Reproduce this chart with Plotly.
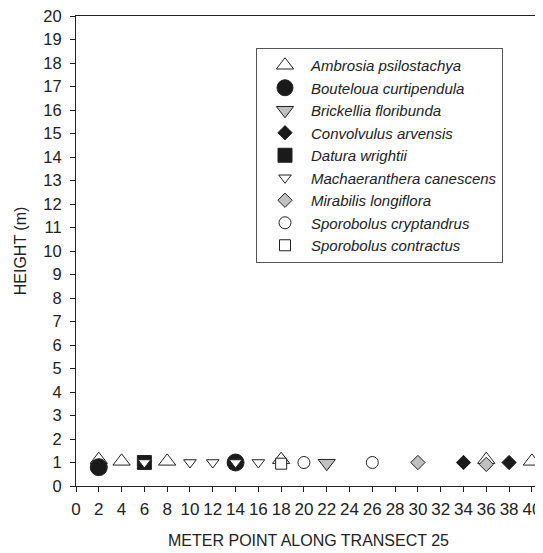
import plotly.graph_objects as go

# Data
species = ["Ambrosia psilostachya", "Bouteloua curtipendula", "Brickellia floribunda",
           "Convolvulus arvensis", "Datura wrightii", "Machaeranthera canescens",
           "Mirabilis longiflora", "Sporobolus cryptandrus", "Sporobolus contractus"]

ambrosia_x = [2, 4, 8, 18, 36, 40]
ambrosia_y = [1.12, 1.05, 1.05, 1.12, 1.12, 1.05]
bouteloua_x = [2, 14]
bouteloua_y = [0.8, 1.0]
brickellia_x = [22]
brickellia_y = [0.97]
convolvulus_x = [34, 38]
convolvulus_y = [1.0, 1.0]
datura_x = [6]
datura_y = [1.0]
machaeranthera_x = [6, 10, 12, 14, 16]
machaeranthera_y = [1.0, 1.0, 1.0, 1.0, 1.0]
mirabilis_x = [30, 36]
mirabilis_y = [1.0, 0.92]
cryptandrus_x = [20, 26]
cryptandrus_y = [1.0, 1.0]
contractus_x = [18]
contractus_y = [0.95]

x_tick_vals = list(range(0, 41, 2))
y_tick_vals = list(range(0, 21, 1))

BLACK = "#1a1a1a"
GRAY = "#c0c0c0"
LINE = "#222222"

styles = [
    (ambrosia_x, ambrosia_y, "triangle-up", 15, "white"),
    (bouteloua_x, bouteloua_y, "circle", 17, BLACK),
    (brickellia_x, brickellia_y, "triangle-down", 15, GRAY),
    (convolvulus_x, convolvulus_y, "diamond", 11, BLACK),
    (datura_x, datura_y, "square", 14, BLACK),
    (machaeranthera_x, machaeranthera_y, "triangle-down", 11, "white"),
    (mirabilis_x, mirabilis_y, "diamond", 11, GRAY),
    (cryptandrus_x, cryptandrus_y, "circle", 12, "white"),
    (contractus_x, contractus_y, "square", 11, "white"),
]

fig = go.Figure()
for name, (xs, ys, sym, size, fill) in zip(species, styles):
    fig.add_trace(go.Scatter(
        x=xs, y=ys, mode="markers", name=name,
        marker=dict(symbol=sym, size=size, color=fill,
                    line=dict(color=LINE, width=1)),
        cliponaxis=False,
    ))

# The page body has an 8px default margin, so the figure is drawn 8px smaller
# and its left/top margins are reduced to keep the plot area where the reference has it.
FONT = "Liberation Sans, Arial, sans-serif"
fig.update_layout(
    width=535, height=545,
    margin=dict(l=68, r=2, t=8, b=67),
    paper_bgcolor="white", plot_bgcolor="white",
    font=dict(family=FONT, size=16, color="#222222"),
    showlegend=True,
    legend=dict(
        x=(256 - 76) / 465, y=(486 - 48) / 470, xanchor="left", yanchor="top",
        bgcolor="white", bordercolor="#555555", borderwidth=1,
        font=dict(family=FONT, size=15, style="italic", color="#222222"),
        itemsizing="trace", indentation=2, itemwidth=42,
    ),
    xaxis=dict(
        range=[0, 40.8], tickmode="array", tickvals=x_tick_vals,
        ticktext=[str(v) for v in x_tick_vals],
        showgrid=False, zeroline=False, showline=True, linecolor=LINE, linewidth=1,
        mirror=True, ticks="outside", ticklen=5, tickcolor=LINE,
        tickfont=dict(size=17), ticklabelstandoff=3, automargin=False,
        ticklabeloverflow="allow",
        title=dict(text="METER POINT ALONG TRANSECT 25", font=dict(size=16), standoff=16),
    ),
    yaxis=dict(
        range=[0, 20], tickmode="array", tickvals=y_tick_vals,
        ticktext=[str(v) for v in y_tick_vals],
        showgrid=False, zeroline=False, showline=True, linecolor=LINE, linewidth=1,
        ticks="outside", ticklen=5, tickcolor=LINE,
        tickfont=dict(size=16.5), ticklabelstandoff=5, automargin=False,
        ticklabeloverflow="allow",
        title=dict(text="HEIGHT (m)", font=dict(size=16), standoff=12),
    ),
)

fig.write_html("out.html")
